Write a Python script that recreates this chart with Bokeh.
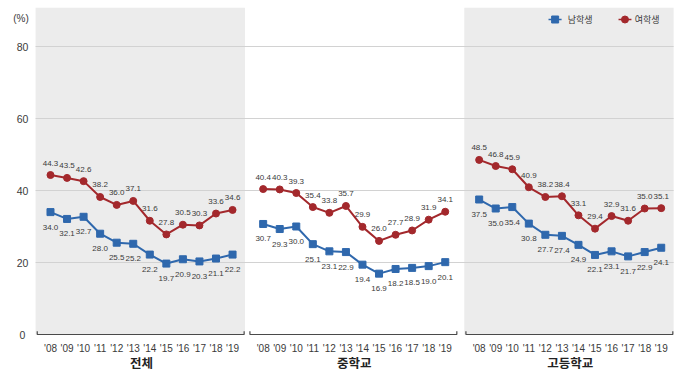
from bokeh.plotting import figure
from bokeh.models import Range1d
from bokeh.core.properties import value
from bokeh.embed import file_html
from bokeh.resources import INLINE

years = ["'08", "'09", "'10", "'11", "'12", "'13", "'14", "'15", "'16", "'17", "'18", "'19"]
panels = ["전체", "중학교", "고등학교"]
series_names = ["남학생", "여학생"]

total_male = [34.0, 32.1, 32.7, 28.0, 25.5, 25.2, 22.2, 19.7, 20.9, 20.3, 21.1, 22.2]
total_female = [44.3, 43.5, 42.6, 38.2, 36.0, 37.1, 31.6, 27.8, 30.5, 30.3, 33.6, 34.6]
middle_male = [30.7, 29.3, 30.0, 25.1, 23.1, 22.9, 19.4, 16.9, 18.2, 18.5, 19.0, 20.1]
middle_female = [40.4, 40.3, 39.3, 35.4, 33.8, 35.7, 29.9, 26.0, 27.7, 28.9, 31.9, 34.1]
high_male = [37.5, 35.0, 35.4, 30.8, 27.7, 27.4, 24.9, 22.1, 23.1, 21.7, 22.9, 24.1]
high_female = [48.5, 46.8, 45.9, 40.9, 38.2, 38.4, 33.1, 29.4, 32.9, 31.6, 35.0, 35.1]

y_ticks = [0, 20, 40, 60, 80]

male_data = [total_male, middle_male, high_male]
female_data = [total_female, middle_female, high_female]

# layout (data units: 1 unit = one year step, y in %)
offsets = [0.0, 12.85, 25.9]
shaded = [True, False, True]

BLUE = "#2f68ad"
RED = "#a3282c"
GRAY_BG = "#ececec"
TXT = "#3a3a3a"
NUM_FONT = value("Liberation Sans")

p = figure(width=694, height=388, output_backend="svg", toolbar_location=None,
           x_range=Range1d(-3.02, 38.91), y_range=Range1d(-15.0, 92.78),
           x_axis_type=None, y_axis_type=None, min_border=0,
           background_fill_color="white", border_fill_color="white")
p.outline_line_color = None
p.grid.visible = False

# panel backgrounds
for off, sh in zip(offsets, shaded):
    if sh:
        p.quad(left=off - 0.9, right=off + 11.75, bottom=0, top=90.8, fill_color=GRAY_BG, line_color=None)

# grid lines
gy = [t for t in y_ticks if t > 0]
p.segment(x0=[-0.9] * len(gy), x1=[offsets[2] + 11.75] * len(gy), y0=gy, y1=gy,
          line_color="#d2d2d2", line_width=1)

# baseline brackets
for off in offsets:
    l, r = off - 0.8, off + 11.7
    p.line(x=[l, l, r, r], y=[0.9, 0, 0, 0.9], line_color="#4a4a4a", line_width=1.2)

# y tick labels
p.text(x=[-1.69] * len(y_ticks), y=y_ticks, text=[str(t) for t in y_ticks],
       text_align="center", text_baseline="middle", text_font=value("Liberation Sans"),
       text_font_size="10.5px", text_color=TXT)
p.text(x=[-1.78], y=[87.8], text=["(%)"], text_align="center", text_baseline="middle",
       text_font=value("Liberation Sans"), text_font_size="10px", text_color=TXT)

for k, off in enumerate(offsets):
    xs = [off + i for i in range(len(years))]
    m = male_data[k]
    f = female_data[k]
    p.line(xs, m, line_color=BLUE, line_width=2)
    p.scatter(xs, m, marker="square", size=7, fill_color=BLUE, line_color=BLUE)
    p.line(xs, f, line_color=RED, line_width=2)
    p.scatter(xs, f, marker="circle", size=7, fill_color=RED, line_color=RED)
    p.text(xs, m, text=[f"{v:.1f}" for v in m], y_offset=15, text_align="center",
           text_baseline="middle", text_font=NUM_FONT, text_font_size="8px", text_color=TXT)
    p.text(xs, f, text=[f"{v:.1f}" for v in f], y_offset=-12, text_align="center",
           text_baseline="middle", text_font=NUM_FONT, text_font_size="8px", text_color=TXT)
    p.text(xs, [-3.9] * len(xs), text=years, text_align="center", text_baseline="middle",
           text_font=value("Liberation Sans"), text_font_size="10px", text_color=TXT)
    p.text([off + 5.5], [-7.9], text=[panels[k]], text_align="center", text_baseline="middle",
           text_font=value("Noto Sans CJK KR"), text_font_size="12.5px", text_font_style="bold",
           text_color="#222222")

# legend
p.line([30.09, 30.88], [87.5, 87.5], line_color=BLUE, line_width=1.5)
p.scatter([30.49], [87.5], marker="square", size=7, fill_color=BLUE, line_color=BLUE)
p.text([31.25], [87.5], text=[series_names[0]], text_baseline="middle",
       text_font=value("Noto Sans CJK KR"), text_font_size="9px", text_color=TXT)
p.line([34.32, 35.1], [87.5, 87.5], line_color=RED, line_width=1.5)
p.scatter([34.71], [87.5], marker="circle", size=7, fill_color=RED, line_color=RED)
p.text([35.3], [87.5], text=[series_names[1]], text_baseline="middle",
       text_font=value("Noto Sans CJK KR"), text_font_size="9px", text_color=TXT)

open("out.html", "w").write(file_html(p, INLINE))
